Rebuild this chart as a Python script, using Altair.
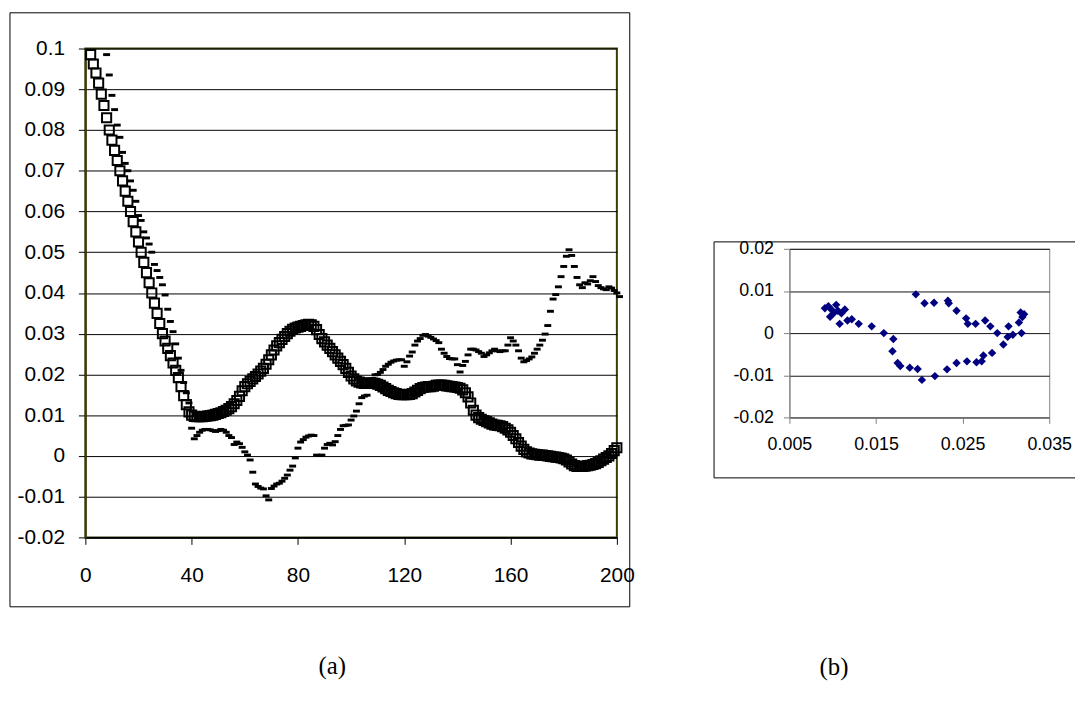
import altair as alt
import pandas as pd

# ---------------- data: panel (a) ----------------
SQUARE_START = 2
SQUARE_Y = [
    0.0985, 0.0962, 0.0940, 0.0915, 0.0888, 0.0860, 0.0830, 0.0800, 0.0775, 0.0750,
    0.0725, 0.0700, 0.0675, 0.0650, 0.0625, 0.0600, 0.0575, 0.0550, 0.0525, 0.0500,
    0.0475, 0.0450, 0.0425, 0.0400, 0.0375, 0.0350, 0.0325, 0.0300, 0.0282, 0.0264,
    0.0246, 0.0228, 0.0210, 0.0192, 0.0170, 0.0148, 0.0126, 0.0108, 0.0100, 0.0097,
    0.0096, 0.0096, 0.0096, 0.0097, 0.0098, 0.0099, 0.0100, 0.0102, 0.0104, 0.0106,
    0.0109, 0.0112, 0.0116, 0.0121, 0.0128, 0.0136, 0.0146, 0.0160, 0.0170, 0.0177,
    0.0183, 0.0189, 0.0195, 0.0201, 0.0208, 0.0215, 0.0225, 0.0236, 0.0248, 0.0260,
    0.0270, 0.0278, 0.0286, 0.0293, 0.0300, 0.0306, 0.0311, 0.0314, 0.0316, 0.0318,
    0.0320, 0.0322, 0.0323, 0.0322, 0.0318, 0.0310, 0.0298, 0.0288, 0.0280, 0.0272,
    0.0264, 0.0256, 0.0248, 0.0240, 0.0232, 0.0224, 0.0215, 0.0205, 0.0196, 0.0189,
    0.0184, 0.0181, 0.0179, 0.0178, 0.0178, 0.0179, 0.0179, 0.0178, 0.0176, 0.0173,
    0.0169, 0.0165, 0.0161, 0.0158, 0.0155, 0.0153, 0.0151, 0.0150, 0.0150, 0.0150,
    0.0151, 0.0153, 0.0157, 0.0161, 0.0165, 0.0168, 0.0169, 0.0170, 0.0170, 0.0171,
    0.0173, 0.0174, 0.0174, 0.0173, 0.0172, 0.0171, 0.0170, 0.0169, 0.0168, 0.0166,
    0.0162, 0.0155, 0.0145, 0.0130, 0.0112, 0.0100, 0.0094, 0.0090, 0.0087, 0.0084,
    0.0081, 0.0078, 0.0076, 0.0075, 0.0074, 0.0072, 0.0068, 0.0064, 0.0058, 0.0050,
    0.0042, 0.0033, 0.0024, 0.0016, 0.0010, 0.0007, 0.0005, 0.0004, 0.0003, 0.0002,
    0.0002, 0.0001, 0.0000, -0.0001, -0.0002, -0.0003, -0.0004, -0.0005, -0.0007, -0.0010,
    -0.0015, -0.0020, -0.0024, -0.0026, -0.0026, -0.0026, -0.0025, -0.0024, -0.0023, -0.0021,
    -0.0019, -0.0016, -0.0012, -0.0008, -0.0004, 0.0000, 0.0006, 0.0013, 0.0020,
]

DASH_START = 8
DASH_Y = [
    0.0985, 0.0935, 0.0885, 0.0850, 0.0812, 0.0782, 0.0745, 0.0718, 0.0700, 0.0675,
    0.0652, 0.0625, 0.0590, 0.0578, 0.0550, 0.0535, 0.0520, 0.0500, 0.0470, 0.0455,
    0.0438, 0.0420, 0.0395, 0.0360, 0.0330, 0.0305, 0.0275, 0.0240, 0.0210, 0.0180,
    0.0155, 0.0130, 0.0068, 0.0042, 0.0050, 0.0058, 0.0063, 0.0065, 0.0065, 0.0064,
    0.0062, 0.0060, 0.0062, 0.0065, 0.0063, 0.0058, 0.0050, 0.0045, 0.0028, 0.0034,
    0.0030, 0.0021, 0.0010, 0.0002, -0.0010, -0.0040, -0.0069, -0.0075, -0.0079, -0.0081,
    -0.0098, -0.0108, -0.0080, -0.0074, -0.0069, -0.0067, -0.0062, -0.0055, -0.0047, -0.0035,
    -0.0025, -0.0005, 0.0019, 0.0034, 0.0040, 0.0046, 0.0049, 0.0051, 0.0050, 0.0002,
    0.0001, 0.0002, 0.0019, 0.0028, 0.0031, 0.0027, 0.0035, 0.0050, 0.0065, 0.0074,
    0.0075, 0.0076, 0.0088, 0.0098, 0.0110, 0.0128, 0.0143, 0.0147, 0.0149, 0.0170,
    0.0190, 0.0199, 0.0200, 0.0205, 0.0212, 0.0220, 0.0225, 0.0230, 0.0233, 0.0235,
    0.0236, 0.0236, 0.0220, 0.0231, 0.0245, 0.0255, 0.0272, 0.0282, 0.0288, 0.0296,
    0.0298, 0.0294, 0.0291, 0.0287, 0.0283, 0.0278, 0.0262, 0.0252, 0.0244, 0.0239,
    0.0238, 0.0238, 0.0224, 0.0206, 0.0222, 0.0232, 0.0248, 0.0262, 0.0262, 0.0260,
    0.0256, 0.0252, 0.0244, 0.0248, 0.0253, 0.0258, 0.0262, 0.0258, 0.0256, 0.0258,
    0.0258, 0.0272, 0.0290, 0.0282, 0.0272, 0.0258, 0.0240, 0.0231, 0.0234, 0.0238,
    0.0243, 0.0252, 0.0262, 0.0272, 0.0284, 0.0299, 0.0320, 0.0355, 0.0385, 0.0396,
    0.0415, 0.0440, 0.0465, 0.0490, 0.0506, 0.0492, 0.0465, 0.0438, 0.0420, 0.0413,
    0.0425, 0.0422, 0.0430, 0.0440, 0.0428, 0.0418, 0.0413, 0.0410, 0.0408, 0.0415,
    0.0412, 0.0406, 0.0400, 0.0391,
]

A_X_TICKS = [0, 40, 80, 120, 160, 200]
A_Y_TICKS = [-0.02, -0.01, 0, 0.01, 0.02, 0.03, 0.04, 0.05, 0.06, 0.07, 0.08, 0.09, 0.1]

# ---------------- data: panel (b) ----------------
B_X = [0.0091, 0.0095, 0.0097, 0.0099, 0.0101, 0.0104, 0.0106, 0.0108, 0.0110, 0.0114,
       0.0117, 0.0122, 0.0130, 0.0145, 0.0159, 0.0170, 0.0169, 0.0175, 0.0178, 0.0189,
       0.0198, 0.0203, 0.0218, 0.0232, 0.0243, 0.0255, 0.0266, 0.0272, 0.0274, 0.0284,
       0.0297, 0.0302, 0.0308, 0.0318, 0.0315, 0.0317, 0.0321, 0.0319, 0.0303, 0.0290,
       0.0282, 0.0276, 0.0265, 0.0256, 0.0254, 0.0243, 0.0234, 0.0233, 0.0217, 0.0206,
       0.0196]
B_Y = [0.0059, 0.0064, 0.0039, 0.0055, 0.0047, 0.0067, 0.0053, 0.0022, 0.0047, 0.0056,
       0.0030, 0.0033, 0.0022, 0.0016, 0.0000, -0.0014, -0.0043, -0.0071, -0.0078, -0.0082,
       -0.0085, -0.0111, -0.0102, -0.0086, -0.0071, -0.0067, -0.0069, -0.0067, -0.0053, -0.0047,
       -0.0027, -0.0009, -0.0004, 0.0000, 0.0025, 0.0049, 0.0045, 0.0038, 0.0016, 0.0000,
       0.0016, 0.0030, 0.0022, 0.0022, 0.0035, 0.0053, 0.0071, 0.0077, 0.0072, 0.0071,
       0.0092]
B_X_TICKS = [0.005, 0.015, 0.025, 0.035]
B_Y_TICKS = [-0.02, -0.01, 0, 0.01, 0.02]

SANS = "Liberation Sans"
SERIF = "Liberation Serif"
OLIVE = "#3c3c08"
LABEL_EXPR = "replace(format(datum.value, '~g'), '\u2212', '-')"

sq_df = pd.DataFrame({"t": list(range(SQUARE_START, SQUARE_START + len(SQUARE_Y))), "v": SQUARE_Y})
dash_df = pd.DataFrame({"t": list(range(DASH_START, DASH_START + len(DASH_Y))), "v": DASH_Y})
b_df = pd.DataFrame({"x": B_X, "y": B_Y})
one = pd.DataFrame({"k": [0]})

# ---------------- panel (a) ----------------
ax_x = alt.X("t:Q", scale=alt.Scale(domain=[0, 200], nice=False, zero=False),
             axis=alt.Axis(values=A_X_TICKS, title=None, grid=False, labelFont=SANS,
                           labelFontSize=21, labelColor="black", tickColor="black",
                           tickSize=7, labelPadding=20, domainColor="black", domainWidth=2,
                           labelFlush=False))
ax_y = alt.Y("v:Q", scale=alt.Scale(domain=[-0.02, 0.1], nice=False, zero=False),
             axis=alt.Axis(values=A_Y_TICKS, title=None, grid=True, gridColor="black",
                           gridOpacity=1, gridWidth=1, labelFont=SANS, labelFontSize=21,
                           labelColor="black", tickColor="black", tickSize=7,
                           labelPadding=14, domainColor=OLIVE, domainWidth=2,
                           labelExpr=LABEL_EXPR, labelFlush=False))

squares = alt.Chart(sq_df).mark_point(
    shape="square", filled=False, stroke="black", strokeWidth=2,
    size=85, opacity=1
).encode(x=ax_x, y=ax_y)

DASH_SHAPE = "M-1,-0.42L1,-0.42L1,0.42L-1,0.42Z"
dashes = alt.Chart(dash_df).mark_point(
    shape=DASH_SHAPE, filled=True, color="black", size=49, opacity=1
).encode(x="t:Q", y="v:Q")

frame_a = alt.Chart(one).mark_rect(fill="transparent", stroke="black", strokeWidth=1).encode(
    x=alt.value(-76), x2=alt.value(549), y=alt.value(-36), y2=alt.value(563)
)
label_a = alt.Chart(one).mark_text(text="(a)", font=SERIF, fontSize=25, color="black",
                                   align="center", baseline="middle").encode(
    x=alt.value(249), y=alt.value(623)
)

panel_a = alt.layer(frame_a, squares, dashes, label_a).properties(
    width=536, height=493,
    view=alt.ViewBackground(stroke=OLIVE, strokeWidth=2, fill="white"),
)

# ---------------- panel (b) ----------------
bx = alt.X("x:Q", scale=alt.Scale(domain=[0.005, 0.035], nice=False, zero=False),
           axis=alt.Axis(values=B_X_TICKS, title=None, grid=False, labelFont=SANS,
                         labelFontSize=18, labelColor="black", tickColor="#808080",
                         tickSize=6, labelPadding=12, domainColor="#808080",
                         labelExpr=LABEL_EXPR, labelFlush=False))
by = alt.Y("y:Q", scale=alt.Scale(domain=[-0.02, 0.02], nice=False, zero=False),
           axis=alt.Axis(values=B_Y_TICKS, title=None, grid=True, gridColor="#111111",
                         gridOpacity=1, labelFont=SANS, labelFontSize=18,
                         labelColor="black", tickColor="#808080", tickSize=6,
                         labelPadding=10, domainColor="#808080",
                         labelExpr=LABEL_EXPR, labelFlush=False))

points_b = alt.Chart(b_df).mark_point(shape="diamond", filled=True, color="#000080",
                                      size=72, opacity=1).encode(x=bx, y=by)

top_b = alt.Chart(one).mark_rule(color="black", strokeWidth=1).encode(
    x=alt.value(-76), x2=alt.value(288), y=alt.value(-7))
bottom_b = alt.Chart(one).mark_rule(color="black", strokeWidth=1).encode(
    x=alt.value(-76), x2=alt.value(288), y=alt.value(231))
left_b = alt.Chart(one).mark_rule(color="black", strokeWidth=1).encode(
    x=alt.value(-76), y=alt.value(-7), y2=alt.value(231))
label_b = alt.Chart(one).mark_text(text="(b)", font=SERIF, fontSize=25, color="black",
                                   align="center", baseline="middle").encode(
    x=alt.value(45), y=alt.value(422)
)

panel_b = alt.layer(top_b, bottom_b, left_b, points_b, label_b).properties(
    width=262, height=170,
    view=alt.ViewBackground(stroke="#808080", strokeWidth=1, fill="white"),
)

# invisible spacer that lowers panel (b) within its column
spacer = alt.Chart(one).mark_point(opacity=0).encode(
    x=alt.value(0), y=alt.value(10)
).properties(width=1, height=191,
             view=alt.ViewBackground(stroke="transparent", fill="transparent"))

right_col = alt.vconcat(spacer, panel_b, spacing=0)

chart = alt.hconcat(panel_a, right_col, spacing=78).properties(
    padding=0, background="white"
)

chart.save("out.html", embed_options={"renderer": "svg", "actions": False})
